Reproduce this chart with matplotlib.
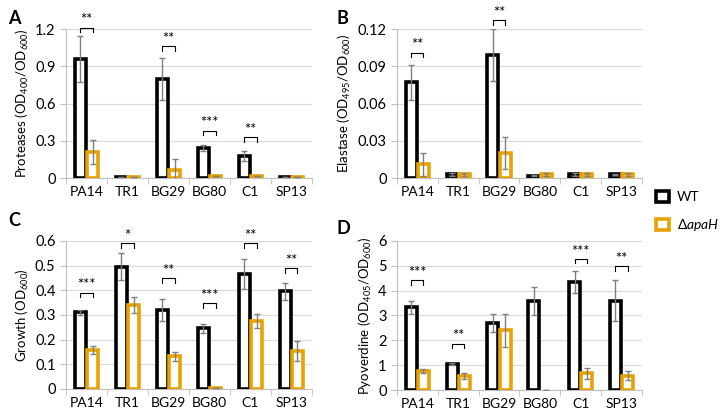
import numpy as np
import matplotlib
matplotlib.use('Agg')
import matplotlib.pyplot as plt
from matplotlib.patches import Patch

plt.rcParams['font.family'] = ['Lato', 'DejaVu Sans']
plt.rcParams['mathtext.fontset'] = 'custom'
plt.rcParams['mathtext.rm'] = 'Lato'
plt.rcParams['mathtext.it'] = 'Lato:italic'

strains = ['PA14', 'TR1', 'BG29', 'BG80', 'C1', 'SP13']

# Proteases
prot_wt = [0.96, 0.01, 0.80, 0.245, 0.175, 0.01]
prot_wt_err = [0.185, 0.0, 0.17, 0.025, 0.04, 0.0]
prot_ko = [0.21, 0.01, 0.065, 0.015, 0.015, 0.01]
prot_ko_err = [0.10, 0.0, 0.085, 0.0, 0.0, 0.0]
prot_sig = {0: ('**', 1.21), 2: ('**', 1.06), 3: ('***', 0.38), 4: ('**', 0.33)}

# Elastase
elas_wt = [0.077, 0.003, 0.099, 0.002, 0.003, 0.003]
elas_wt_err = [0.014, 0.001, 0.021, 0.0005, 0.001, 0.0005]
elas_ko = [0.011, 0.003, 0.020, 0.003, 0.003, 0.003]
elas_ko_err = [0.009, 0.001, 0.013, 0.001, 0.001, 0.001]
elas_sig = {0: ('**', 0.101), 2: ('**', 0.127)}

# Growth
grow_wt = [0.31, 0.495, 0.32, 0.245, 0.465, 0.395]
grow_wt_err = [0.01, 0.055, 0.045, 0.02, 0.06, 0.035]
grow_ko = [0.158, 0.34, 0.133, 0.003, 0.275, 0.155]
grow_ko_err = [0.018, 0.033, 0.018, 0.0, 0.027, 0.04]
grow_sig = {0: ('***', 0.39), 1: ('*', 0.59), 2: ('**', 0.448), 3: ('***', 0.347),
            4: ('**', 0.59), 5: ('**', 0.489)}

# Pyoverdine
pyo_wt = [3.33, 1.05, 2.7, 3.58, 4.35, 3.6]
pyo_wt_err = [0.26, 0.04, 0.35, 0.57, 0.43, 0.83]
pyo_ko = [0.75, 0.57, 2.4, 0.0, 0.67, 0.57]
pyo_ko_err = [0.08, 0.11, 0.66, 0.0, 0.23, 0.18]
pyo_sig = {0: ('***', 4.42), 1: ('**', 1.87), 4: ('***', 5.27), 5: ('**', 4.98)}

wt_color = 'black'
ko_color = '#E8A202'
err_color = '#7F7F7F'
axis_color = '#BFBFBF'

fig = plt.figure(figsize=(7.23, 4.16), dpi=100)

panels = [
    ([0.0913, 0.572, 0.340, 0.358], prot_wt, prot_wt_err, prot_ko, prot_ko_err, prot_sig,
     1.2, 0.3, '{:.1f}', 'Proteases (OD$_{400}$/OD$_{600}$)', 'A', (0.011, 0.975)),
    ([0.549, 0.572, 0.339, 0.358], elas_wt, elas_wt_err, elas_ko, elas_ko_err, elas_sig,
     0.12, 0.03, '{:.2f}', 'Elastase (OD$_{495}$/OD$_{600}$)', 'B', (0.465, 0.975)),
    ([0.0913, 0.065, 0.340, 0.356], grow_wt, grow_wt_err, grow_ko, grow_ko_err, grow_sig,
     0.6, 0.1, '{:.1f}', 'Growth (OD$_{600}$)', 'C', (0.011, 0.49)),
    ([0.549, 0.0625, 0.339, 0.3585], pyo_wt, pyo_wt_err, pyo_ko, pyo_ko_err, pyo_sig,
     6, 1, '{:.0f}', 'Pyoverdine (OD$_{405}$/OD$_{600}$)', 'D', (0.465, 0.472)),
]

x = np.arange(len(strains))
w = 0.27
off = 0.15
lw = 2.6

for rect, wt, wt_err, ko, ko_err, sig, ymax, step, fmt, ylabel, letter, lpos in panels:
    ax = fig.add_axes(rect)
    ax.bar(x - off, wt, w, color='white', edgecolor=wt_color,
           linewidth=[lw if v > 0 else 0 for v in wt], zorder=3)
    ax.bar(x + off, ko, w, color='white', edgecolor=ko_color,
           linewidth=[lw if v > 0 else 0 for v in ko], zorder=3)
    ax.errorbar(x - off, wt, yerr=wt_err, fmt='none', ecolor=err_color, elinewidth=1,
                capsize=2.5, capthick=1, zorder=4)
    ax.errorbar(x + off, ko, yerr=ko_err, fmt='none', ecolor=err_color, elinewidth=1,
                capsize=2.5, capthick=1, zorder=4)

    for i, (stars, h) in sig.items():
        d = ymax * 0.03
        ax.plot([x[i] - off, x[i] - off, x[i] + off, x[i] + off], [h - d, h, h, h - d],
                color='black', linewidth=0.8, clip_on=False, zorder=5)
        ax.text(x[i], h + ymax * 0.003, stars, ha='center', va='bottom', fontsize=10.5,
                clip_on=False)

    ax.set_xlim(-0.5, len(strains) - 0.5)
    ax.set_ylim(0, ymax)
    ticks = np.arange(0, ymax + step / 2, step)
    ax.set_yticks(ticks)
    ax.set_yticklabels(['0'] + [fmt.format(t) for t in ticks[1:]])
    ax.set_xticks(x)
    ax.set_xticklabels(strains)
    ax.set_xticks(np.arange(-0.5, len(strains)), minor=True)
    ax.tick_params(axis='x', which='major', length=0, labelsize=10, pad=6)
    ax.tick_params(axis='x', which='minor', length=4, color=axis_color)
    ax.tick_params(axis='y', length=4, color=axis_color, labelsize=10.5)
    ax.grid(axis='y', color='#D9D9D9', linewidth=0.8, zorder=0)
    ax.set_axisbelow(True)
    for s in ['top', 'right']:
        ax.spines[s].set_visible(False)
    ax.spines['left'].set_color(axis_color)
    ax.spines['bottom'].set_color(axis_color)
    ax.set_ylabel(ylabel, fontsize=9.5, labelpad=3)
    fig.text(lpos[0], lpos[1], letter, fontsize=13, fontweight='bold', ha='left', va='top')

handles = [Patch(facecolor='white', edgecolor=wt_color, linewidth=2.6),
           Patch(facecolor='white', edgecolor=ko_color, linewidth=2.6)]
fig.legend(handles, ['WT', '$\\Delta\\mathit{apaH}$'], loc='upper left',
           bbox_to_anchor=(0.9, 0.555), frameon=False, handlelength=0.9, handleheight=0.9,
           labelspacing=1.0, handletextpad=0.6, fontsize=10, borderaxespad=0)

fig.savefig('out.png', dpi=100)
